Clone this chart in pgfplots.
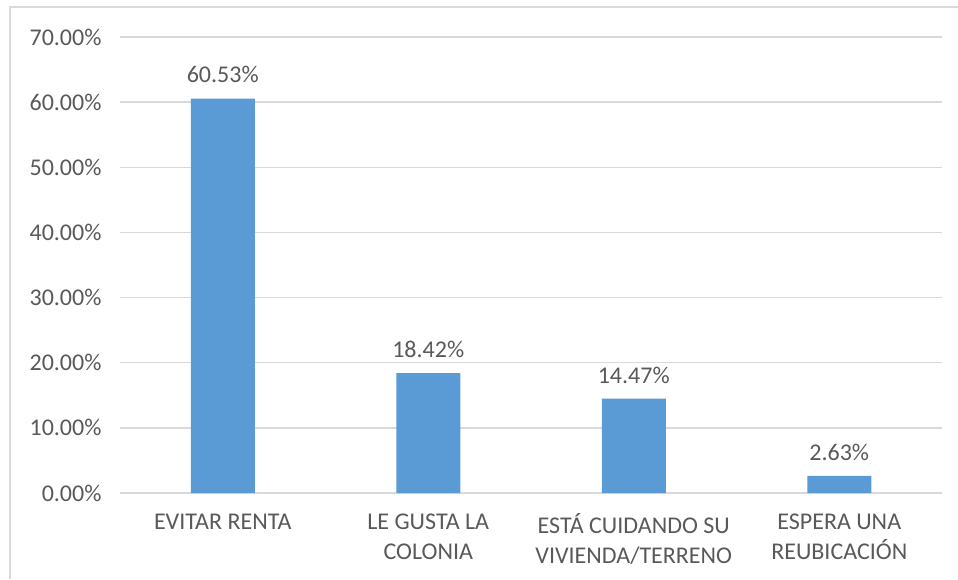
\documentclass[border=0pt]{standalone}
\usepackage{pgfplots}
\pgfplotsset{compat=1.18}
\usepackage{fontspec}
\setmainfont{Carlito}
\definecolor{barblue}{HTML}{5B9BD5}
\definecolor{txt}{HTML}{595959}
\definecolor{gridc}{HTML}{D9D9D9}
\begin{document}
\begin{tikzpicture}[x=1pt,y=1pt]
\useasboundingbox (0,0) rectangle (958,579);
\draw[gridc, line width=1.5pt] (10,0) -- (10,572) -- (958,572);
\begin{axis}[
  at={(120pt,86pt)}, anchor=south west,
  scale only axis, width=822pt, height=456pt,
  xmin=-0.5, xmax=3.5, ymin=0, ymax=70,
  ytick={0,10,...,70},
  xtick=data,
  xticklabels={{EVITAR RENTA},{LE GUSTA LA\\COLONIA},{ESTÁ CUIDANDO SU\\VIVIENDA/TERRENO},{ESPERA UNA\\REUBICACIÓN}},
  /pgf/number format/assume math mode=true,
  yticklabel={\pgfmathprintnumber[fixed,fixed zerofill,precision=2]{\tick}\%},
  ymajorgrids,
  major grid style={gridc, line width=1.3pt},
  axis line style={draw=none},
  tick style={draw=none},
  ticklabel style={text=txt, font=\fontsize{24}{30}\selectfont},
  yticklabel style={xshift=-15pt},
  xticklabel style={align=center, anchor=north, yshift=-13pt},
  ybar, bar width=64pt, bar shift=0pt,
  nodes near coords={\pgfmathprintnumber[fixed,fixed zerofill,precision=2,assume math mode=true]{\pgfplotspointmeta}\%},
  nodes near coords style={text=txt, font=\fontsize{24}{30}\selectfont, anchor=south, yshift=12pt},
  clip=false,
]
\addplot[fill=barblue, draw=none] coordinates {(0,60.53) (1,18.42) (2,14.47) (3,2.63)};
\end{axis}
\end{tikzpicture}
\end{document}
